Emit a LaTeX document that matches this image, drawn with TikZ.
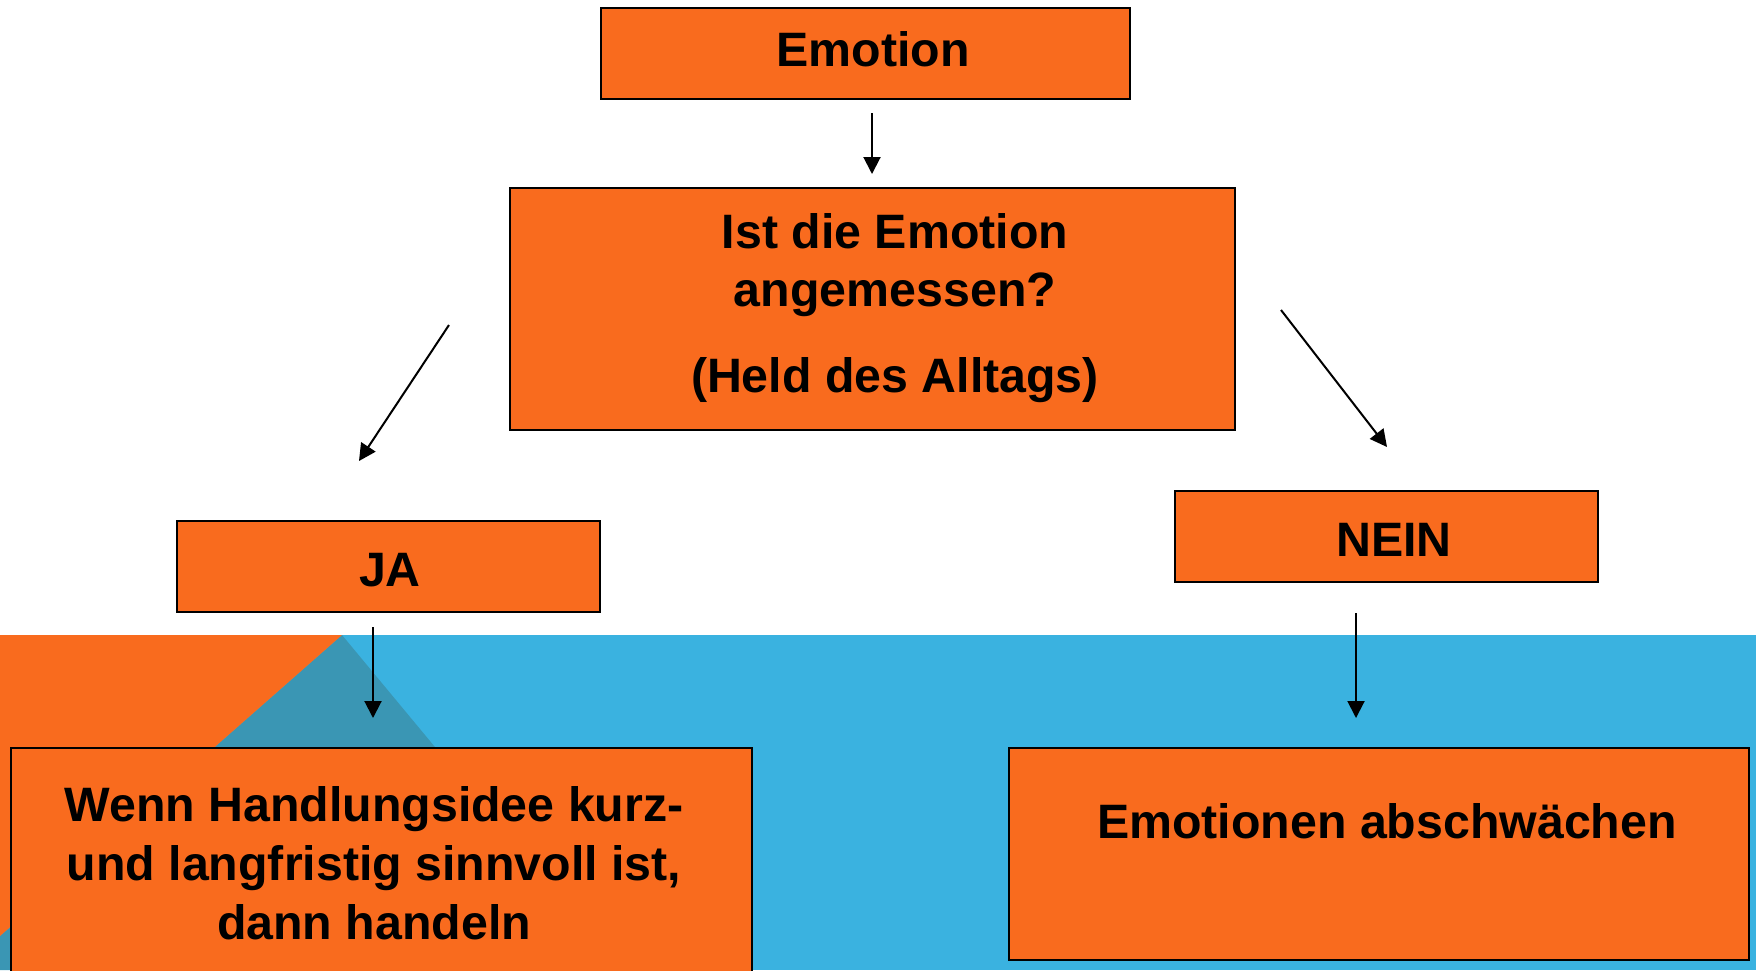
\documentclass[tikz,border=0pt]{standalone}
\usepackage{fontspec}
\setmainfont{Liberation Sans}
\usetikzlibrary{arrows.meta}
\definecolor{boxorange}{RGB}{249,107,30}
\definecolor{lightblue}{RGB}{58,178,224}
\definecolor{darkblue}{RGB}{58,150,180}
\tikzset{
  boxnode/.style={draw=black, line width=1.8pt, fill=boxorange, rectangle, inner sep=0pt},
  txt/.style={font=\fontsize{48.3}{59}\selectfont\bfseries, anchor=base, inner sep=0pt, text=black},
  arr/.style={line width=2pt, -{Triangle[length=17pt,width=17pt]}}
}
\begin{document}
\begin{tikzpicture}[x=1pt,y=-1pt]
\useasboundingbox (0,0) rectangle (1756,970);
\clip (0,0) rectangle (1756,970);
% background
\fill[white] (0,0) rectangle (1756,970);
\fill[lightblue] (0,635) rectangle (1756,970);
\fill[darkblue] (342,635) -- (620,970) -- (0,970) -- (0,936) -- cycle;
\fill[boxorange] (0,635) -- (342,635) -- (0,936) -- cycle;

% boxes
\node[boxnode, minimum width=529pt, minimum height=91pt] (emo) at (865.5,53.5) {};
\node[boxnode, minimum width=725pt, minimum height=242pt] (q) at (872.5,309) {};
\node[boxnode, minimum width=423pt, minimum height=91pt] (ja) at (388.5,566.5) {};
\node[boxnode, minimum width=423pt, minimum height=91pt] (nein) at (1386.5,536.5) {};
\node[boxnode, minimum width=741pt, minimum height=240pt] (wenn) at (381.5,868) {};
\node[boxnode, minimum width=740pt, minimum height=212pt] (abs) at (1379,854) {};

% texts
\node[txt] (temo) at (873,66) {Emotion};
\node[txt] (tq1) at (895,248) {Ist die Emotion};
\node[txt] (tq2) at (895,306) {angemessen?};
\node[txt] (tq3) at (895,392) {(Held des Alltags)};
\node[txt] (tja) at (390,586) {JA};
\node[txt] (tnein) at (1394,556) {NEIN};
\node[txt] (tw1) at (374,821) {Wenn Handlungsidee kurz-};
\node[txt] (tw2) at (374,880) {und langfristig sinnvoll ist,};
\node[txt] (tw3) at (374,939) {dann handeln};
\node[txt] (tabs) at (1387,838) {Emotionen abschwächen};

% arrow coordinates
\coordinate (a1s) at (872,113);
\coordinate (a1e) at (872,174);
\coordinate (a2s) at (449,325);
\coordinate (a2e) at (359,461);
\coordinate (a3s) at (1281,310);
\coordinate (a3e) at (1387,447);
\coordinate (a4s) at (373,627);
\coordinate (a4e) at (373,718);
\coordinate (a5s) at (1356,613);
\coordinate (a5e) at (1356,718);

\draw[arr] (a1s) -- (a1e);
\draw[arr] (a2s) -- (a2e);
\draw[arr] (a3s) -- (a3e);
\draw[arr] (a4s) -- (a4e);
\draw[arr] (a5s) -- (a5e);
\end{tikzpicture}
\end{document}
